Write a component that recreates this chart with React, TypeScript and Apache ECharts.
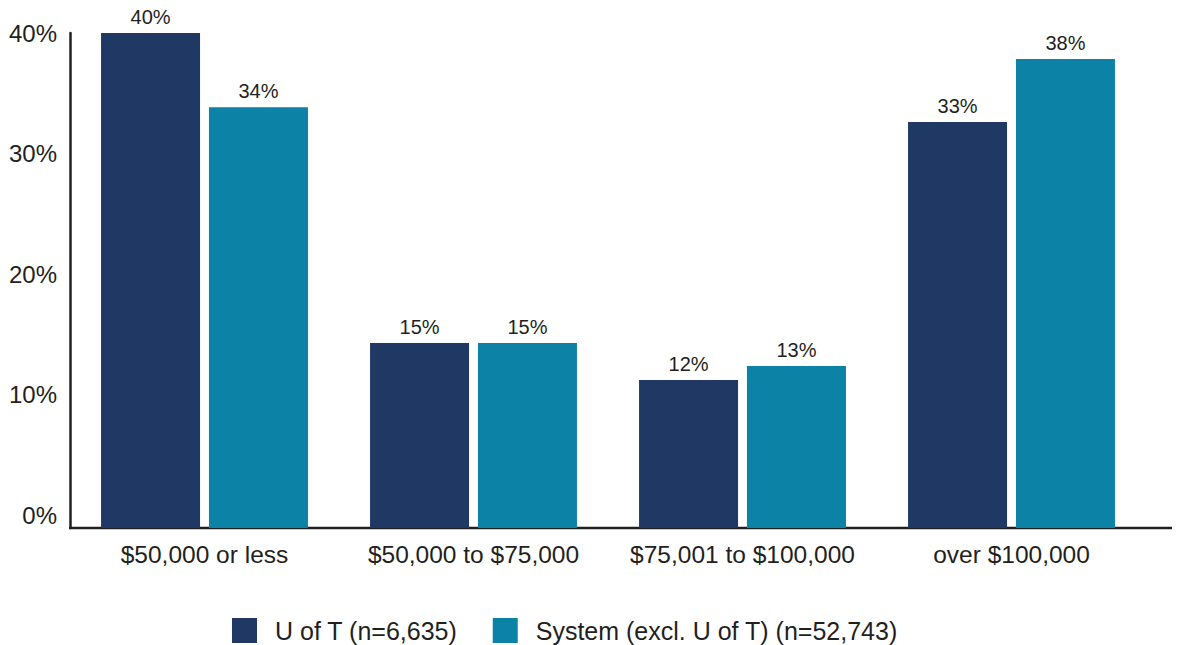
import React, { useEffect, useRef } from "react";
import * as echarts from "echarts";

const categories = ["$50,000 or less", "$50,000 to $75,000", "$75,001 to $100,000", "over $100,000"];
const seriesNames = ["U of T (n=6,635)", "System (excl. U of T) (n=52,743)"];
const uoftValues = [40, 14.95, 11.95, 32.8];
const systemValues = [34, 14.95, 13.1, 37.9];
const tickValues = [0, 10, 20, 30, 40];
const colors = ["#203864", "#0b82a6"];

const TEXT = "#231f20";
const FONT = "'Liberation Sans', Arial, sans-serif";

export default function App() {
  const ref = useRef<HTMLDivElement>(null);
  useEffect(() => {
    if (!ref.current) return;
    const chart = echarts.init(ref.current, null, { renderer: "svg" });
    const label = {
      show: true,
      position: "top",
      distance: 6,
      color: TEXT,
      fontSize: 20,
      fontFamily: FONT,
      formatter: (p: any) => Math.round(p.value) + "%",
    };
    chart.setOption({
      animation: false,
      textStyle: { fontFamily: FONT, color: TEXT },
      grid: { left: 70, right: 38, top: 33, bottom: 117, containLabel: false },
      xAxis: {
        type: "category",
        data: categories,
        axisLine: { show: false },
        axisTick: { show: false },
        axisLabel: { color: TEXT, fontSize: 24.5, fontFamily: FONT, margin: 14, interval: 0 },
      },
      yAxis: [
        {
          type: "value",
          min: 0,
          max: 40,
          interval: 10,
          axisLine: { show: true, lineStyle: { color: TEXT, width: 2.5 } },
          axisTick: { show: false },
          axisLabel: { show: false },
          splitLine: { show: false },
        },
        {
          type: "value",
          min: -1.077,
          max: 40,
          position: "left",
          axisLine: { show: false },
          axisTick: { show: false },
          splitLine: { show: false },
          axisLabel: {
            customValues: tickValues,
            formatter: (v: number) => Math.round(v) + "%",
            color: TEXT,
            fontSize: 24,
            fontFamily: FONT,
            margin: 13,
          },
        },
      ],
      legend: {
        left: 227,
        top: 613,
        itemWidth: 25,
        itemHeight: 25,
        itemGap: 35,
        icon: "rect",
        textStyle: { color: TEXT, fontSize: 25, fontFamily: FONT, padding: [0, 0, 0, 13] },
        data: seriesNames,
      },
      graphic: [
        {
          type: "line",
          shape: { x1: 69, y1: 528, x2: 1172, y2: 528 },
          style: { stroke: TEXT, lineWidth: 2.5 },
          z: 0,
        },
      ],
      series: [
        {
          name: seriesNames[0],
          type: "bar",
          data: uoftValues,
          barWidth: 99,
          barGap: "9%",
          itemStyle: { color: colors[0] },
          label,
        },
        {
          name: seriesNames[1],
          type: "bar",
          data: systemValues,
          barWidth: 99,
          barGap: "9%",
          itemStyle: { color: colors[1] },
          label,
        },
      ],
    });
    return () => chart.dispose();
  }, []);
  return <div ref={ref} style={{ width: 1184, height: 645, position: "absolute", left: 0, top: 0 }} />;
}
